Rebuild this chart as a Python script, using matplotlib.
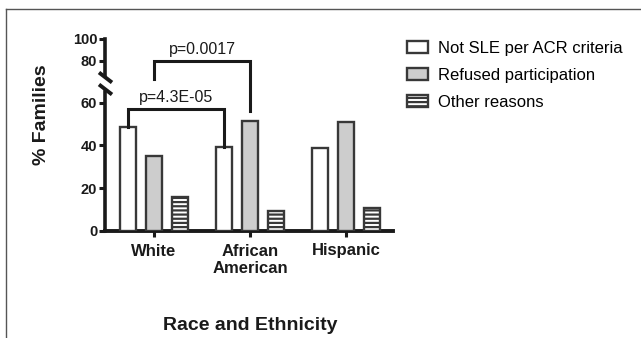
import numpy as np
import matplotlib.pyplot as plt
from matplotlib.lines import Line2D

plt.rcParams['font.family'] = ['Liberation Sans', 'DejaVu Sans']
plt.rcParams['hatch.linewidth'] = 1.6

groups = ['White', 'African\nAmerican', 'Hispanic']
series = ['Not SLE per ACR criteria', 'Refused participation', 'Other reasons']
not_sle = [48.4, 39.2, 38.7]
refused = [35.3, 51.6, 50.8]
other = [16.0, 9.3, 10.6]
p_labels = ['p=4.3E-05', 'p=0.0017']

edge = '#383838'
ink = '#1a1a1a'
fills = ['white', '#cdcdcd', 'white']
hatches = [None, None, '----']

fig = plt.figure(figsize=(6.41, 3.38), dpi=100)
W, H = 641, 338

def box(x0, y0, x1, y1):
    # pixel box (top-left origin) -> figure fraction rect
    return [x0 / W, 1 - y1 / H, (x1 - x0) / W, (y1 - y0) / H]

ax = fig.add_axes(box(105, 92, 393, 231))
ax_top = fig.add_axes(box(105, 39, 393, 76), sharex=ax)
ax_top.patch.set_visible(False)

x = np.arange(len(groups))
step, width = 0.27, 0.17
for i, (vals, fc, h) in enumerate(zip([not_sle, refused, other], fills, hatches)):
    ax.bar(x + (i - 1) * step, vals, width, color=fc, edgecolor=edge,
           linewidth=1.7, hatch=h, label=series[i], zorder=3)

ax.set_xlim(-0.51, 2.49)
ax.set_ylim(0, 65)
ax_top.set_ylim(66, 100)

ax.set_yticks([0, 20, 40, 60])
ax_top.set_yticks([80, 100])
ax.set_xticks(x)
ax.set_xticklabels(groups, fontsize=12, fontweight='bold', color=ink)

for a in (ax, ax_top):
    for s in ('top', 'right'):
        a.spines[s].set_visible(False)
    a.spines['left'].set_linewidth(2.6)
    a.spines['left'].set_color(ink)
    a.tick_params(axis='y', direction='out', length=4, width=2.2, color=ink,
                  labelsize=10.5, pad=1.5, labelcolor=ink)
    for lab in a.get_yticklabels():
        lab.set_fontweight('bold')
ax.spines['bottom'].set_linewidth(2.8)
ax.spines['bottom'].set_color(ink)
ax.tick_params(axis='x', direction='out', length=4, width=2.2, color=ink, pad=5)
ax_top.spines['bottom'].set_visible(False)
ax_top.tick_params(axis='x', bottom=False, labelbottom=False)

# break marks on the y axis
d = dict(transform=fig.transFigure, color=ink, lw=2.8, solid_capstyle='butt')
for yc in (77.5, 89.5):
    fig.add_artist(Line2D([99 / W, 112 / W], [1 - (yc - 5) / H, 1 - (yc + 5) / H], **d))

# significance brackets (drawn in lower-axis data units, unclipped)
def bracket(x0, x1, y0, y1, top, text):
    ax.plot([x0, x0, x1, x1], [y0, top, top, y1], color=ink, lw=2.2,
            clip_on=False, zorder=4, solid_joinstyle='miter')
    ax.text((x0 + x1) / 2, top + 1.8, text, ha='center', va='bottom',
            fontsize=11.5, color=ink, clip_on=False)

bracket(x[0] - step, x[1] - step, not_sle[0], not_sle[1], 57.2, p_labels[0])
bracket(x[0], x[1], 71.0, refused[1] + 4.5, 79.5, p_labels[1])

fig.text(42 / W, 1 - 115 / H, '% Families', rotation=90, ha='center', va='center',
         fontsize=14, fontweight='bold', color=ink)
fig.text(250 / W, 1 - 326 / H, 'Race and Ethnicity', ha='center', va='center',
         fontsize=14, fontweight='bold', color=ink)

handles, labels = ax.get_legend_handles_labels()
fig.legend(handles, labels, loc='upper left', bbox_to_anchor=(405 / W, 1 - 39 / H),
           frameon=False, fontsize=12, handlelength=1.25, handleheight=0.78,
           handletextpad=0.6, labelspacing=0.72, borderaxespad=0, borderpad=0.1)

# outer frame lines
fr = dict(transform=fig.transFigure, color='#555555', lw=1.0)
fig.add_artist(Line2D([6 / W, 1], [1 - 9 / H, 1 - 9 / H], **fr))
fig.add_artist(Line2D([6 / W, 6 / W], [1 - 9 / H, 0], **fr))

fig.savefig('out.png', dpi=100)
